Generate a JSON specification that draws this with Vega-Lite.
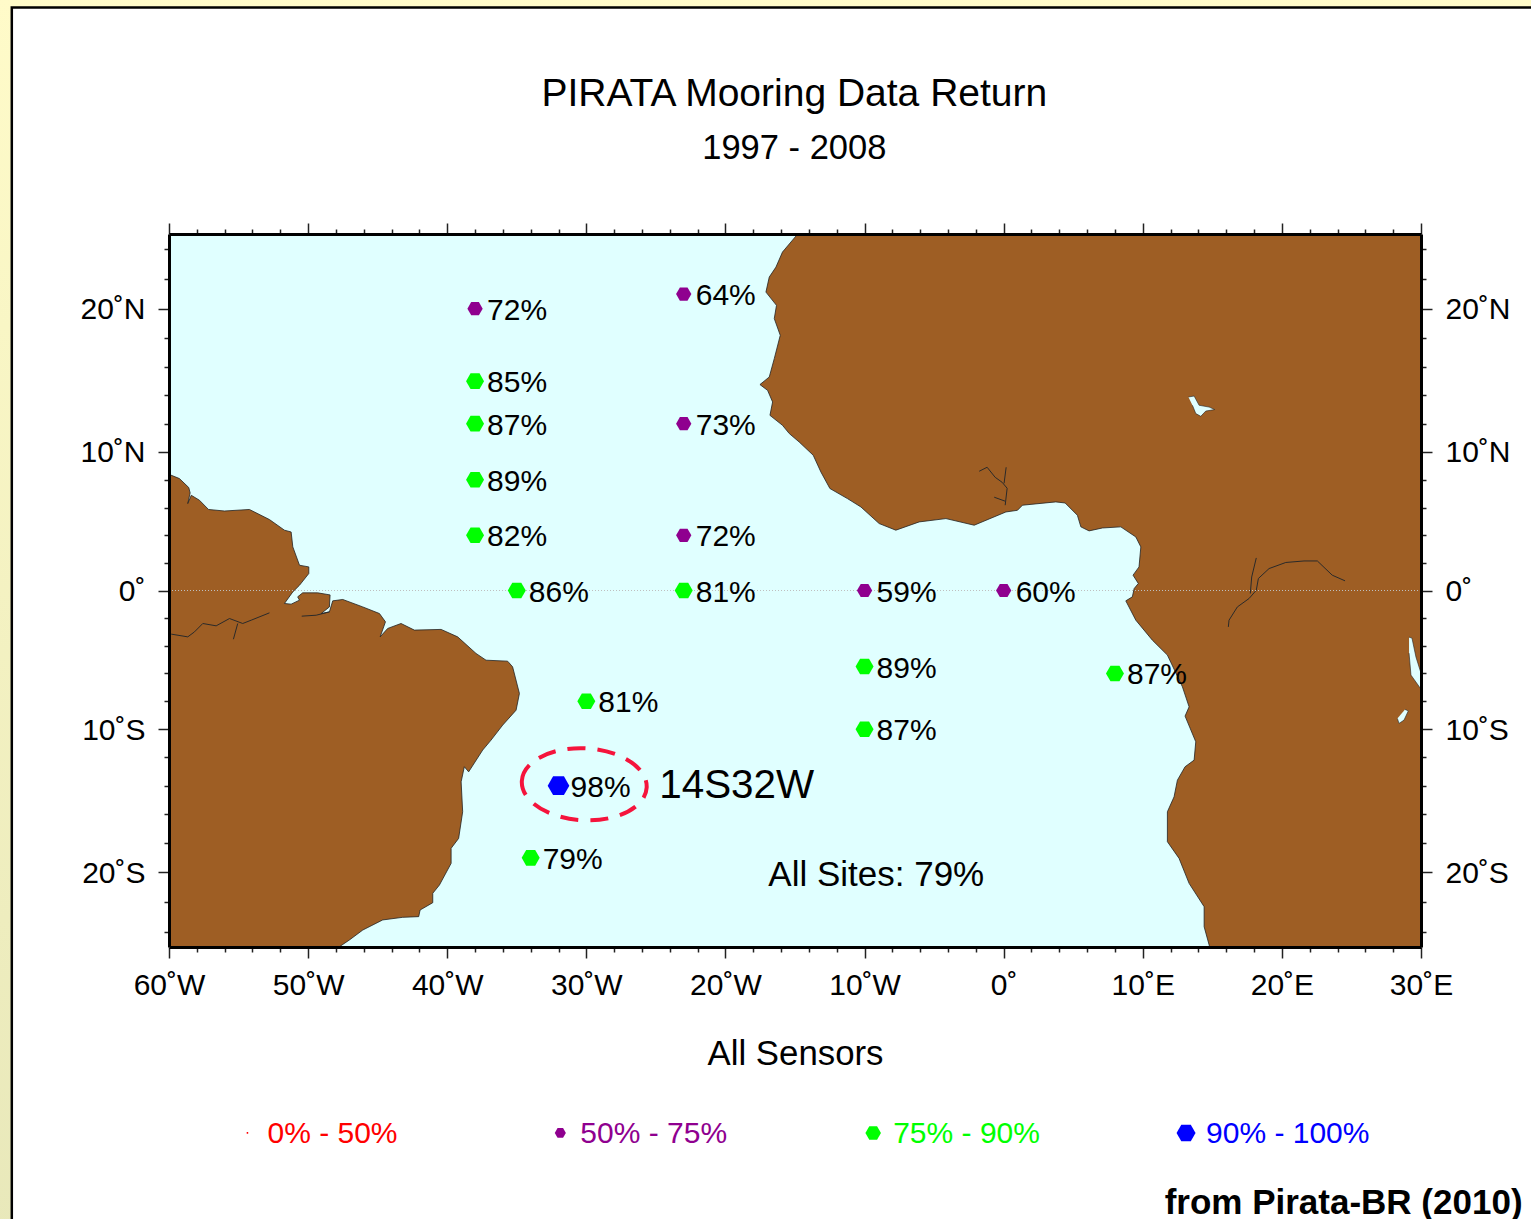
{
"$schema":"https://vega.github.io/schema/vega-lite/v6.json",
"width":1252,"height":713,
"autosize":{"type":"none"},
"padding":{"left":169,"top":234,"right":110,"bottom":272},
"background":"#F4F2C2",
"config":{"view":{"stroke":null},"text":{"font":"Liberation Sans","color":"#000000"}},
"resolve":{"axis":{"x":"independent","y":"independent"}},
"datasets":{
"land":[
{"part":"sa","lon":-60.68,"lat":8.93},{"part":"sa","lon":-59.96,"lat":8.40},{"part":"sa","lon":-59.25,"lat":8.11},{"part":"sa","lon":-58.58,"lat":7.46},{"part":"sa","lon":-58.48,"lat":7.07},{"part":"sa","lon":-58.65,"lat":6.30},{"part":"sa","lon":-58.40,"lat":6.90},{"part":"sa","lon":-57.81,"lat":6.54},{"part":"sa","lon":-57.16,"lat":5.87},{"part":"sa","lon":-56.01,"lat":5.76},{"part":"sa","lon":-54.22,"lat":5.87},{"part":"sa","lon":-52.78,"lat":5.14},{"part":"sa","lon":-51.70,"lat":4.37},{"part":"sa","lon":-51.22,"lat":4.24},{"part":"sa","lon":-51.10,"lat":3.16},{"part":"sa","lon":-50.62,"lat":1.83},{"part":"sa","lon":-49.95,"lat":1.71},{"part":"sa","lon":-49.95,"lat":1.23},{"part":"sa","lon":-50.62,"lat":0.38},{"part":"sa","lon":-51.10,"lat":-0.10},{"part":"sa","lon":-51.70,"lat":-0.94},{"part":"sa","lon":-51.22,"lat":-0.99},{"part":"sa","lon":-50.62,"lat":-0.70},{"part":"sa","lon":-50.75,"lat":-0.46},{"part":"sa","lon":-50.39,"lat":-0.17},{"part":"sa","lon":-49.31,"lat":-0.17},{"part":"sa","lon":-48.42,"lat":-0.32},{"part":"sa","lon":-48.47,"lat":-1.19},{"part":"sa","lon":-49.06,"lat":-1.67},{"part":"sa","lon":-48.47,"lat":-1.55},{"part":"sa","lon":-48.23,"lat":-0.75},{"part":"sa","lon":-47.51,"lat":-0.65},{"part":"sa","lon":-46.07,"lat":-1.19},{"part":"sa","lon":-44.87,"lat":-1.67},{"part":"sa","lon":-44.44,"lat":-2.27},{"part":"sa","lon":-44.82,"lat":-3.36},{"part":"sa","lon":-44.28,"lat":-2.75},{"part":"sa","lon":-43.32,"lat":-2.39},{"part":"sa","lon":-42.36,"lat":-2.87},{"part":"sa","lon":-40.44,"lat":-2.82},{"part":"sa","lon":-39.25,"lat":-3.36},{"part":"sa","lon":-37.93,"lat":-4.56},{"part":"sa","lon":-37.21,"lat":-5.05},{"part":"sa","lon":-35.66,"lat":-5.12},{"part":"sa","lon":-35.30,"lat":-5.53},{"part":"sa","lon":-34.81,"lat":-7.46},{"part":"sa","lon":-35.05,"lat":-8.67},{"part":"sa","lon":-36.01,"lat":-9.75},{"part":"sa","lon":-36.85,"lat":-10.84},{"part":"sa","lon":-37.45,"lat":-11.56},{"part":"sa","lon":-38.46,"lat":-13.14},{"part":"sa","lon":-38.77,"lat":-12.77},{"part":"sa","lon":-39.00,"lat":-13.86},{"part":"sa","lon":-38.89,"lat":-16.03},{"part":"sa","lon":-39.18,"lat":-17.96},{"part":"sa","lon":-39.72,"lat":-18.68},{"part":"sa","lon":-39.72,"lat":-19.77},{"part":"sa","lon":-40.56,"lat":-21.34},{"part":"sa","lon":-41.04,"lat":-21.94},{"part":"sa","lon":-41.04,"lat":-22.62},{"part":"sa","lon":-41.95,"lat":-23.15},{"part":"sa","lon":-42.05,"lat":-23.63},{"part":"sa","lon":-43.20,"lat":-23.68},{"part":"sa","lon":-44.64,"lat":-23.87},{"part":"sa","lon":-46.07,"lat":-24.60},{"part":"sa","lon":-47.03,"lat":-25.32},{"part":"sa","lon":-47.75,"lat":-25.81},{"part":"sa","lon":-48.47,"lat":-26.77},{"part":"sa","lon":-61.40,"lat":-26.77},{"part":"sa","lon":-61.40,"lat":9.44},
{"part":"af","lon":-14.91,"lat":27.2},{"part":"af","lon":-14.89,"lat":25.73},{"part":"af","lon":-15.90,"lat":24.52},{"part":"af","lon":-16.37,"lat":23.43},{"part":"af","lon":-16.85,"lat":22.71},{"part":"af","lon":-17.09,"lat":21.62},{"part":"af","lon":-16.33,"lat":20.66},{"part":"af","lon":-16.49,"lat":19.70},{"part":"af","lon":-16.06,"lat":18.49},{"part":"af","lon":-16.49,"lat":16.80},{"part":"af","lon":-16.85,"lat":15.47},{"part":"af","lon":-17.52,"lat":14.92},{"part":"af","lon":-16.97,"lat":14.50},{"part":"af","lon":-16.61,"lat":13.66},{"part":"af","lon":-16.80,"lat":12.69},{"part":"af","lon":-15.90,"lat":11.97},{"part":"af","lon":-15.41,"lat":11.37},{"part":"af","lon":-14.70,"lat":10.76},{"part":"af","lon":-13.69,"lat":9.80},{"part":"af","lon":-13.14,"lat":8.59},{"part":"af","lon":-12.49,"lat":7.39},{"part":"af","lon":-11.23,"lat":6.66},{"part":"af","lon":-10.26,"lat":6.05},{"part":"af","lon":-8.95,"lat":4.85},{"part":"af","lon":-7.75,"lat":4.37},{"part":"af","lon":-6.07,"lat":4.97},{"part":"af","lon":-4.15,"lat":5.21},{"part":"af","lon":-2.12,"lat":4.73},{"part":"af","lon":0.16,"lat":5.69},{"part":"af","lon":0.99,"lat":5.81},{"part":"af","lon":1.35,"lat":6.18},{"part":"af","lon":3.75,"lat":6.42},{"part":"af","lon":4.42,"lat":6.34},{"part":"af","lon":5.30,"lat":5.45},{"part":"af","lon":5.55,"lat":4.61},{"part":"af","lon":6.14,"lat":4.32},{"part":"af","lon":7.10,"lat":4.53},{"part":"af","lon":8.42,"lat":4.61},{"part":"af","lon":9.50,"lat":3.88},{"part":"af","lon":9.86,"lat":3.16},{"part":"af","lon":9.73,"lat":1.71},{"part":"af","lon":9.30,"lat":1.11},{"part":"af","lon":9.68,"lat":0.51},{"part":"af","lon":9.38,"lat":0.14},{"part":"af","lon":9.25,"lat":-0.46},{"part":"af","lon":8.78,"lat":-0.75},{"part":"af","lon":9.50,"lat":-2.15},{"part":"af","lon":10.69,"lat":-3.60},{"part":"af","lon":11.77,"lat":-4.68},{"part":"af","lon":12.85,"lat":-6.98},{"part":"af","lon":13.33,"lat":-8.43},{"part":"af","lon":13.04,"lat":-9.10},{"part":"af","lon":13.81,"lat":-10.96},{"part":"af","lon":13.69,"lat":-12.29},{"part":"af","lon":13.04,"lat":-12.77},{"part":"af","lon":12.49,"lat":-13.74},{"part":"af","lon":12.25,"lat":-14.95},{"part":"af","lon":11.77,"lat":-16.03},{"part":"af","lon":11.77,"lat":-18.20},{"part":"af","lon":12.61,"lat":-19.41},{"part":"af","lon":13.33,"lat":-21.22},{"part":"af","lon":14.41,"lat":-22.91},{"part":"af","lon":14.41,"lat":-24.36},{"part":"af","lon":14.77,"lat":-25.68},{"part":"af","lon":15.12,"lat":-27.1},{"part":"af","lon":32,"lat":-27.1},{"part":"af","lon":32,"lat":27.2}
],
"lakes":[
{"part":"chad","lon":13.28,"lat":14.02},{"part":"chad","lon":13.69,"lat":14.09},{"part":"chad","lon":14.05,"lat":13.42},{"part":"chad","lon":14.77,"lat":13.29},{"part":"chad","lon":15.17,"lat":13.11},{"part":"chad","lon":14.53,"lat":13.0},{"part":"chad","lon":14.17,"lat":12.62},{"part":"chad","lon":13.81,"lat":12.82},{"part":"chad","lon":13.57,"lat":13.42},
{"part":"tang","lon":29.14,"lat":-3.38},{"part":"tang","lon":29.35,"lat":-3.45},{"part":"tang","lon":29.64,"lat":-4.83},{"part":"tang","lon":30,"lat":-5.99},{"part":"tang","lon":30,"lat":-7.15},{"part":"tang","lon":29.28,"lat":-6.13},{"part":"tang","lon":29.14,"lat":-4.54},
{"part":"mweru","lon":28.85,"lat":-8.62},{"part":"mweru","lon":29.09,"lat":-8.72},{"part":"mweru","lon":28.78,"lat":-9.39},{"part":"mweru","lon":28.42,"lat":-9.63},{"part":"mweru","lon":28.30,"lat":-9.27}
],
"rivers":[
{"part":"r1","lon":-59.84,"lat":-3.16},{"part":"r1","lon":-58.65,"lat":-3.36},{"part":"r1","lon":-58.17,"lat":-3.00},{"part":"r1","lon":-57.57,"lat":-2.39},{"part":"r1","lon":-56.61,"lat":-2.56},{"part":"r1","lon":-55.65,"lat":-2.03},{"part":"r1","lon":-54.70,"lat":-2.39},{"part":"r1","lon":-54.09,"lat":-2.15},{"part":"r1","lon":-52.78,"lat":-1.62},
{"part":"r2","lon":-55.06,"lat":-2.39},{"part":"r2","lon":-55.37,"lat":-3.53},
{"part":"r3","lon":-50.46,"lat":-1.86},{"part":"r3","lon":-49.42,"lat":-1.79},{"part":"r3","lon":-48.47,"lat":-1.55},
{"part":"r4","lon":-1.76,"lat":8.64},{"part":"r4","lon":-1.19,"lat":8.93},{"part":"r4","lon":-0.61,"lat":8.20},{"part":"r4","lon":-0.11,"lat":7.84},{"part":"r4","lon":0.25,"lat":7.41},{"part":"r4","lon":0.11,"lat":6.18},
{"part":"r5","lon":0.18,"lat":8.93},{"part":"r5","lon":0.03,"lat":7.77},
{"part":"r6","lon":-0.68,"lat":6.76},{"part":"r6","lon":0.11,"lat":6.47},
{"part":"r7","lon":24.54,"lat":0.70},{"part":"r7","lon":23.62,"lat":1.11},{"part":"r7","lon":22.55,"lat":2.14},{"part":"r7","lon":21.59,"lat":2.14},{"part":"r7","lon":20.28,"lat":2.03},{"part":"r7","lon":19.08,"lat":1.59},{"part":"r7","lon":18.31,"lat":0.87},{"part":"r7","lon":18.16,"lat":0.02},{"part":"r7","lon":17.64,"lat":-0.58},{"part":"r7","lon":16.80,"lat":-1.19},{"part":"r7","lon":16.20,"lat":-2.15},{"part":"r7","lon":16.15,"lat":-2.64},
{"part":"r8","lon":18.16,"lat":2.36},{"part":"r8","lon":17.83,"lat":0.98},{"part":"r8","lon":17.73,"lat":-0.22}
],
"stations":[
{"lon":-38,"lat":20.42,"label":"72%","band":"50% - 75%"},{"lon":-23,"lat":21.48,"label":"64%","band":"50% - 75%"},{"lon":-38,"lat":15.17,"label":"85%","band":"75% - 90%"},{"lon":-38,"lat":12.09,"label":"87%","band":"75% - 90%"},{"lon":-23,"lat":12.09,"label":"73%","band":"50% - 75%"},{"lon":-38,"lat":8.03,"label":"89%","band":"75% - 90%"},{"lon":-38,"lat":4.0,"label":"82%","band":"75% - 90%"},{"lon":-23,"lat":4.0,"label":"72%","band":"50% - 75%"},{"lon":-35,"lat":0,"label":"86%","band":"75% - 90%"},{"lon":-23,"lat":0,"label":"81%","band":"75% - 90%"},{"lon":-10,"lat":0,"label":"59%","band":"50% - 75%"},{"lon":0,"lat":0,"label":"60%","band":"50% - 75%"},{"lon":-10,"lat":-5.51,"label":"89%","band":"75% - 90%"},{"lon":8,"lat":-6.01,"label":"87%","band":"75% - 90%"},{"lon":-30,"lat":-8.03,"label":"81%","band":"75% - 90%"},{"lon":-10,"lat":-10.05,"label":"87%","band":"75% - 90%"},{"lon":-32,"lat":-14.14,"label":"98%","band":"90% - 100%"},{"lon":-34,"lat":-19.37,"label":"79%","band":"75% - 90%"}
],
"legend":[
{"band":"0% - 50%","lon":-54.36,"lat":-39.3},{"band":"50% - 75%","lon":-31.87,"lat":-39.3},{"band":"75% - 90%","lon":-9.38,"lat":-39.3},{"band":"90% - 100%","lon":13.11,"lat":-39.3}
]
},
"data":{"name":"land"},
"layer":[
{"data":{"values":[{}]},
 "mark":{"type":"rect","fill":{"x1":0,"y1":0,"x2":0,"y2":1,"gradient":"linear","stops":[{"offset":0,"color":"#FFFBC9"},{"offset":1,"color":"#E8E8BA"}]}},
 "encoding":{
  "x":{"datum":-73,"type":"quantitative","scale":{"domain":[-60,30],"nice":false,"zero":false},"axis":null},
  "x2":{"datum":41},
  "y":{"datum":43,"type":"quantitative","scale":{"domain":[-25.83,25.83],"nice":false,"zero":false},"axis":null},
  "y2":{"datum":-47.6}}},
{"data":{"values":[{}]},
 "mark":{"type":"rect","fill":"#FFFFFF","stroke":"#000000","strokeWidth":2.5},
 "encoding":{
  "x":{"datum":-71.3,"type":"quantitative","axis":null},
  "x2":{"datum":40},
  "y":{"datum":42.24,"type":"quantitative","axis":null},
  "y2":{"datum":-47.05}}},
{"data":{"values":[{}]},
 "mark":{"type":"rect","fill":"#E0FFFF"},
 "encoding":{
  "x":{"datum":-60,"type":"quantitative","axis":{"orient":"bottom","title":"All Sensors","titleFont":"Liberation Sans","titleFontSize":34.8,"titleFontWeight":"normal","titleColor":"#000000","titlePadding":37,"values":[-60,-58,-56,-54,-52,-50,-48,-46,-44,-42,-40,-38,-36,-34,-32,-30,-28,-26,-24,-22,-20,-18,-16,-14,-12,-10,-8,-6,-4,-2,0,2,4,6,8,10,12,14,16,18,20,22,24,26,28,30],"labelExpr":"datum.value%10!==0?'':(datum.value===0?'0˚':abs(datum.value)+(datum.value<0?'˚W':'˚E'))","labelFont":"Liberation Sans","labelFontSize":30,"labelColor":"#000000","labelPadding":12,"labelOverlap":false,"labelFlush":false,"grid":false,"domain":true,"domainColor":"#000000","domainWidth":3,"tickColor":"#222222","tickWidth":1.5,"tickSize":{"condition":{"test":"datum.value%10===0","value":11},"value":5},"zindex":1}},
  "x2":{"datum":30},
  "y":{"datum":25.83,"type":"quantitative","axis":{"orient":"left","title":null,"values":[-24.73,-22.56,-20.42,-18.30,-16.21,-14.14,-12.09,-10.05,-8.03,-6.01,-4,-2,0,2,4,6.01,8.03,10.05,12.09,14.14,16.21,18.30,20.42,22.56,24.73],"labelExpr":"datum.value===20.42?'20˚N':datum.value===10.05?'10˚N':datum.value===0?'0˚':datum.value===-10.05?'10˚S':datum.value===-20.42?'20˚S':''","labelFont":"Liberation Sans","labelFontSize":30,"labelColor":"#000000","labelPadding":13,"labelOffset":1,"labelOverlap":false,"labelFlush":false,"grid":false,"domain":true,"domainColor":"#000000","domainWidth":3,"tickColor":"#222222","tickWidth":1.5,"tickSize":{"condition":{"test":"indexof([0,10.05,20.42,-10.05,-20.42],datum.value)>=0","value":11},"value":5},"zindex":1}},
  "y2":{"datum":-25.83}}},
{"mark":{"type":"line","fill":"#9E5E24","stroke":"#222222","strokeWidth":0.8,"clip":true},
 "encoding":{
  "x":{"field":"lon","type":"quantitative","axis":{"orient":"top","title":null,"labels":false,"values":[-60,-58,-56,-54,-52,-50,-48,-46,-44,-42,-40,-38,-36,-34,-32,-30,-28,-26,-24,-22,-20,-18,-16,-14,-12,-10,-8,-6,-4,-2,0,2,4,6,8,10,12,14,16,18,20,22,24,26,28,30],"grid":false,"domain":true,"domainColor":"#000000","domainWidth":3,"tickColor":"#222222","tickWidth":1.5,"tickSize":{"condition":{"test":"datum.value%10===0","value":11},"value":5},"zindex":1}},
  "y":{"field":"lat","type":"quantitative","axis":{"orient":"right","title":null,"values":[-24.73,-22.56,-20.42,-18.30,-16.21,-14.14,-12.09,-10.05,-8.03,-6.01,-4,-2,0,2,4,6.01,8.03,10.05,12.09,14.14,16.21,18.30,20.42,22.56,24.73],"labelExpr":"datum.value===20.42?'20˚N':datum.value===10.05?'10˚N':datum.value===0?'0˚':datum.value===-10.05?'10˚S':datum.value===-20.42?'20˚S':''","labelFont":"Liberation Sans","labelFontSize":30,"labelColor":"#000000","labelPadding":13,"labelOffset":1,"labelOverlap":false,"labelFlush":false,"grid":false,"domain":true,"domainColor":"#000000","domainWidth":3,"tickColor":"#222222","tickWidth":1.5,"tickSize":{"condition":{"test":"indexof([0,10.05,20.42,-10.05,-20.42],datum.value)>=0","value":11},"value":5},"zindex":1}},
  "detail":{"field":"part"},
  "order":{"value":null}}},
{"data":{"name":"lakes"},
 "mark":{"type":"line","fill":"#E0FFFF","stroke":"#222222","strokeWidth":0.6,"clip":true},
 "encoding":{
  "x":{"field":"lon","type":"quantitative","axis":null},
  "y":{"field":"lat","type":"quantitative","axis":null},
  "detail":{"field":"part"},"order":{"value":null}}},
{"data":{"name":"rivers"},
 "mark":{"type":"line","stroke":"#2A2A2A","strokeWidth":1,"clip":true},
 "encoding":{
  "x":{"field":"lon","type":"quantitative","axis":null},
  "y":{"field":"lat","type":"quantitative","axis":null},
  "detail":{"field":"part"},"order":{"value":null}}},
{"data":{"values":[{"lat":0}]},
 "mark":{"type":"rule","stroke":"#BFBFBF","strokeWidth":1,"strokeDash":[1,2]},
 "encoding":{"y":{"field":"lat","type":"quantitative","axis":null}}},
{"data":{"values":[{"lon":-30.15,"lat":-14.04}]},
 "mark":{"type":"point","shape":"M-1,0 A1,0.576 0 1,1 1,0 A1,0.576 0 1,1 -1,0 Z","size":15625,"filled":false,"stroke":"#F5143C","strokeWidth":4,"strokeDash":[18,12],"opacity":1,"angle":3},
 "encoding":{"x":{"field":"lon","type":"quantitative","axis":null},"y":{"field":"lat","type":"quantitative","axis":null}}},
{"data":{"name":"stations"},
 "mark":{"type":"point","shape":"M-1,0 L-0.5,-0.866 L0.5,-0.866 L1,0 L0.5,0.866 L-0.5,0.866 Z","filled":true,"opacity":1},
 "encoding":{
  "x":{"field":"lon","type":"quantitative","axis":null},
  "y":{"field":"lat","type":"quantitative","axis":null},
  "color":{"field":"band","type":"nominal","scale":{"domain":["0% - 50%","50% - 75%","75% - 90%","90% - 100%"],"range":["#FF0000","#8F008F","#00FF00","#0000FF"]},"legend":null},
  "size":{"field":"band","type":"ordinal","scale":{"type":"ordinal","domain":["0% - 50%","50% - 75%","75% - 90%","90% - 100%"],"range":[130,234,324,470]},"legend":null}}},
{"data":{"name":"stations"},
 "mark":{"type":"text","align":"left","baseline":"alphabetic","dx":12,"dy":11,"fontSize":30},
 "encoding":{
  "x":{"field":"lon","type":"quantitative","axis":null},
  "y":{"field":"lat","type":"quantitative","axis":null},
  "text":{"field":"label"}}},
{"data":{"values":[{"lon":-16.92,"lat":-21.41,"note":"All Sites: 79%"}]},
 "mark":{"type":"text","align":"left","baseline":"alphabetic","fontSize":35},
 "encoding":{"x":{"field":"lon","type":"quantitative","axis":null},"y":{"field":"lat","type":"quantitative","axis":null},"text":{"field":"note"}}},
{"data":{"values":[{"lon":-24.76,"lat":-15.04,"note":"14S32W"}]},
 "mark":{"type":"text","align":"left","baseline":"alphabetic","fontSize":40.4},
 "encoding":{"x":{"field":"lon","type":"quantitative","axis":null},"y":{"field":"lat","type":"quantitative","axis":null},"text":{"field":"note"}}},
{"data":{"values":[{"lon":37.3,"lat":-45.16,"note":"from Pirata-BR (2010)"}]},
 "mark":{"type":"text","align":"right","baseline":"alphabetic","fontSize":35,"fontWeight":"bold"},
 "encoding":{"x":{"field":"lon","type":"quantitative","axis":null},"y":{"field":"lat","type":"quantitative","axis":null},"text":{"field":"note"}}},
{"data":{"values":[{"lon":-15.05,"lat":35.14,"note":"PIRATA Mooring Data Return"}]},
 "mark":{"type":"text","align":"center","baseline":"alphabetic","fontSize":39},
 "encoding":{"x":{"field":"lon","type":"quantitative","axis":null},"y":{"field":"lat","type":"quantitative","axis":null},"text":{"field":"note"}}},
{"data":{"values":[{"lon":-15.05,"lat":31.23,"note":"1997 - 2008"}]},
 "mark":{"type":"text","align":"center","baseline":"alphabetic","fontSize":34.5},
 "encoding":{"x":{"field":"lon","type":"quantitative","axis":null},"y":{"field":"lat","type":"quantitative","axis":null},"text":{"field":"note"}}},
{"data":{"name":"legend"},
 "mark":{"type":"point","shape":"M-1,0 L-0.5,-0.866 L0.5,-0.866 L1,0 L0.5,0.866 L-0.5,0.866 Z","filled":true,"opacity":1},
 "encoding":{
  "x":{"field":"lon","type":"quantitative","axis":null},
  "y":{"field":"lat","type":"quantitative","axis":null},
  "color":{"field":"band","type":"nominal","legend":null},
  "size":{"field":"band","type":"ordinal","legend":null}}},
{"data":{"name":"legend"},
 "mark":{"type":"text","align":"left","baseline":"middle","dx":20,"dy":1,"fontSize":30},
 "encoding":{
  "x":{"field":"lon","type":"quantitative","axis":null},
  "y":{"field":"lat","type":"quantitative","axis":null},
  "color":{"field":"band","type":"nominal","legend":null},
  "text":{"field":"band"}}}
]
}
